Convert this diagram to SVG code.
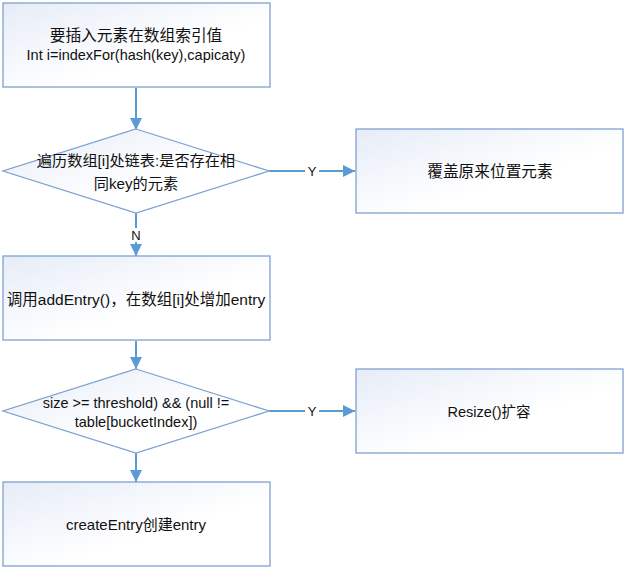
<svg xmlns="http://www.w3.org/2000/svg" width="626" height="569" viewBox="0 0 626 569">
<defs>
<linearGradient id="g" x1="0" y1="0" x2="1" y2="1">
<stop offset="0" stop-color="#e6ecf7"/>
<stop offset="0.6" stop-color="#ffffff"/>
</linearGradient>
<marker id="ah" viewBox="0 0 10 10" refX="10" refY="5" markerWidth="12" markerHeight="12" markerUnits="userSpaceOnUse" orient="auto">
<path d="M0,0 L10,5 L0,10 z" fill="#5b9bd5"/>
</marker>
</defs>
<style>
.n{fill:url(#g);stroke:#7da2cf;stroke-width:1.3}
.c{stroke:#5b9bd5;stroke-width:2;fill:none;marker-end:url(#ah)}
text{font-family:"Liberation Sans","Noto Sans CJK SC",sans-serif;font-size:14.5px;fill:#111;text-anchor:middle}
.lbl{font-size:13px}
.cj{font-size:15.7px}
</style>
<g id="connectors">
<line class="c" x1="136" y1="88" x2="136" y2="130"/>
<line class="c" x1="269" y1="171" x2="355" y2="171"/>
<line class="c" x1="136" y1="213" x2="136" y2="256"/>
<line class="c" x1="136" y1="341" x2="136" y2="369"/>
<line class="c" x1="269" y1="411" x2="355" y2="411"/>
<line class="c" x1="136" y1="453" x2="136" y2="482"/>
<rect x="305" y="164" width="14" height="14" fill="#fff"/>
<text class="lbl" x="312" y="176">Y</text>
<rect x="305" y="404" width="14" height="14" fill="#fff"/>
<text class="lbl" x="312" y="416">Y</text>
<rect x="129" y="228" width="14" height="14" fill="#fff"/>
<text class="lbl" x="136" y="240">N</text>
</g>
<g id="n1">
<rect class="n" x="3" y="3" width="267" height="84"/>
<text class="cj" x="136" y="41">要插入元素在数组索引值</text>
<text x="136" y="60">Int i=indexFor(hash(key),capicaty)</text>
</g>
<g id="d1">
<polygon class="n" points="136,129 269,171 136,213 3,171"/>
<text x="136" y="166" style="font-size:15.2px">遍历数组[i]处链表:是否存在相</text>
<text x="136" y="189" style="font-size:15.2px">同key的元素</text>
</g>
<g id="n2">
<rect class="n" x="356" y="129" width="267" height="84"/>
<text class="cj" x="490" y="177">覆盖原来位置元素</text>
</g>
<g id="n3">
<rect class="n" x="3" y="256" width="267" height="84"/>
<text x="136" y="305" style="font-size:15.5px">调用addEntry()，在数组[i]处增加entry</text>
</g>
<g id="d2">
<polygon class="n" points="136,369 269,411 136,453 3,411"/>
<text x="136" y="408">size &gt;= threshold) &amp;&amp; (null !=</text>
<text x="136" y="427">table[bucketIndex])</text>
</g>
<g id="n4">
<rect class="n" x="356" y="369" width="267" height="84"/>
<text x="489" y="417">Resize()扩容</text>
</g>
<g id="n5">
<rect class="n" x="3" y="482" width="267" height="84"/>
<text x="136" y="530" style="font-size:15px">createEntry创建entry</text>
</g>
</svg>
